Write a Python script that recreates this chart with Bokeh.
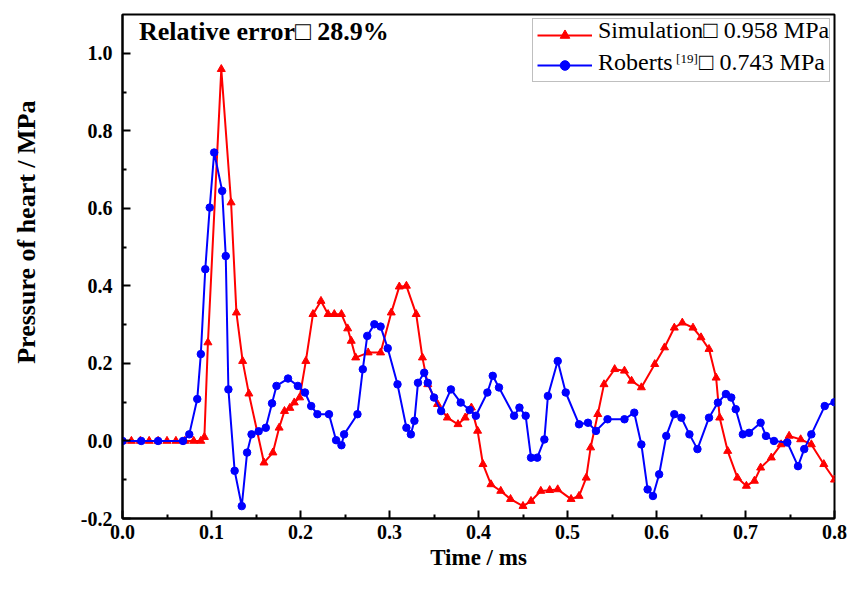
import math
from bokeh.plotting import figure
from bokeh.models import Range1d, Label, Legend, LegendItem, FixedTicker, PrintfTickFormatter, Title
from bokeh.embed import file_html
from bokeh.resources import INLINE

# Simulation (red, triangles)
sim_t = [0, 0.01, 0.02, 0.03, 0.04, 0.05, 0.06, 0.07, 0.08, 0.088, 0.092, 0.096, 0.111, 0.122, 0.128,
         0.135, 0.142, 0.159, 0.169, 0.176, 0.182, 0.188, 0.193, 0.199, 0.206, 0.214, 0.223, 0.231,
         0.238, 0.246, 0.253, 0.257, 0.262, 0.276, 0.290, 0.302, 0.311, 0.319, 0.330, 0.337, 0.343,
         0.354, 0.365, 0.377, 0.385, 0.392, 0.399, 0.405, 0.414, 0.425, 0.436, 0.450, 0.459, 0.470,
         0.480, 0.489, 0.504, 0.513, 0.521, 0.526, 0.534, 0.541, 0.553, 0.564, 0.572, 0.583, 0.598,
         0.609, 0.620, 0.629, 0.641, 0.650, 0.659, 0.667, 0.671, 0.680, 0.691, 0.701, 0.710, 0.717,
         0.729, 0.740, 0.749, 0.762, 0.774, 0.788, 0.800]
sim_p = [0, 0, 0, 0, 0, 0, 0, 0, 0, 0.0, 0.01, 0.254, 0.959, 0.615, 0.331,
         0.206, 0.122, -0.056, -0.030, 0.034, 0.077, 0.085, 0.099, 0.112, 0.206, 0.327, 0.361, 0.327,
         0.327, 0.327, 0.290, 0.258, 0.215, 0.228, 0.228, 0.331, 0.398, 0.400, 0.327, 0.215, 0.146,
         0.095, 0.060, 0.043, 0.060, 0.086, 0.026, -0.060, -0.112, -0.129, -0.150, -0.168, -0.155, -0.129,
         -0.127, -0.125, -0.150, -0.142, -0.095, -0.017, 0.069, 0.146, 0.185, 0.181, 0.155, 0.138, 0.198,
         0.241, 0.292, 0.305, 0.292, 0.267, 0.237, 0.163, 0.060, -0.026, -0.095, -0.116, -0.103, -0.069,
         -0.043, -0.009, 0.013, 0.004, -0.009, -0.060, -0.100]

# Roberts [19] (blue, circles)
rob_t = [0, 0.021, 0.040, 0.068, 0.075, 0.084, 0.088, 0.093, 0.098, 0.103, 0.112, 0.116, 0.119, 0.126,
         0.134, 0.140, 0.145, 0.153, 0.161, 0.168, 0.173, 0.186, 0.197, 0.205, 0.212, 0.219, 0.232,
         0.240, 0.246, 0.249, 0.264, 0.270, 0.275, 0.283, 0.290, 0.298, 0.309, 0.319, 0.324, 0.328,
         0.332, 0.339, 0.343, 0.350, 0.358, 0.369, 0.380, 0.390, 0.397, 0.410, 0.416, 0.423, 0.440,
         0.446, 0.453, 0.459, 0.466, 0.474, 0.478, 0.489, 0.498, 0.513, 0.523, 0.532, 0.545, 0.564,
         0.575, 0.583, 0.590, 0.596, 0.603, 0.611, 0.620, 0.628, 0.637, 0.646, 0.659, 0.669, 0.678,
         0.684, 0.689, 0.697, 0.704, 0.717, 0.723, 0.732, 0.747, 0.759, 0.766, 0.774, 0.789, 0.800]
rob_p = [0, 0, 0, 0, 0.017, 0.108, 0.224, 0.443, 0.602, 0.744, 0.645, 0.477, 0.133, -0.077,
         -0.168, -0.030, 0.017, 0.025, 0.034, 0.097, 0.142, 0.161, 0.142, 0.125, 0.090, 0.069, 0.069,
         0.002, -0.011, 0.017, 0.069, 0.185, 0.271, 0.301, 0.295, 0.239, 0.146, 0.034, 0.017, 0.052,
         0.150, 0.176, 0.150, 0.112, 0.077, 0.133, 0.099, 0.080, 0.065, 0.125, 0.168, 0.138, 0.065,
         0.086, 0.065, -0.043, -0.043, 0.004, 0.116, 0.206, 0.125, 0.043, 0.047, 0.026, 0.056, 0.056,
         0.073, -0.009, -0.125, -0.142, -0.086, 0.013, 0.069, 0.060, 0.017, -0.021, 0.060, 0.099, 0.121,
         0.112, 0.082, 0.017, 0.021, 0.047, 0.013, 0.000, -0.004, -0.065, -0.021, 0.017, 0.090, 0.100]

x_ticks = [0.0, 0.1, 0.2, 0.3, 0.4, 0.5, 0.6, 0.7, 0.8]
x_minor = [0.05, 0.15, 0.25, 0.35, 0.45, 0.55, 0.65, 0.75]
y_ticks = [-0.2, 0.0, 0.2, 0.4, 0.6, 0.8, 1.0]
y_minor = [-0.1, 0.1, 0.3, 0.5, 0.7, 0.9]

sim_label = "Simulation\u25a1 0.958 MPa"
rob_label_a = "Roberts"
rob_label_sup = "[19]"
rob_label_b = "\u25a1 0.743 MPa"
err_text = "Relative error\u25a1 28.9%"
x_title = "Time / ms"
y_title = "Pressure of heart / MPa"

SERIF = "Liberation Serif"

p = figure(width=853, height=607, output_backend="svg", toolbar_location=None,
           x_range=Range1d(0, 0.8), y_range=Range1d(-0.2, 1.1),
           min_border_left=122, min_border_right=19, min_border_top=14, min_border_bottom=89)
p.grid.visible = False
p.outline_line_color = "black"
p.outline_line_width = 2
p.background_fill_color = "white"

for ax, maj, mnr in ((p.xaxis[0], x_ticks, x_minor), (p.yaxis[0], y_ticks, y_minor)):
    ax.ticker = FixedTicker(ticks=maj, minor_ticks=mnr)
    ax.formatter = PrintfTickFormatter(format="%.1f")
    ax.axis_line_color = "black"
    ax.axis_line_width = 2
    ax.major_tick_in = 8
    ax.major_tick_out = 0
    ax.minor_tick_in = 4
    ax.minor_tick_out = 0
    ax.major_tick_line_width = 2
    ax.minor_tick_line_width = 2
    ax.major_label_text_font = SERIF
    ax.major_label_text_font_style = "bold"
    ax.major_label_text_font_size = "20px"
    ax.major_label_text_color = "black"
p.xaxis.major_label_standoff = 6
p.yaxis.major_label_standoff = 10

p.xaxis.axis_label = x_title
p.xaxis.axis_label_text_font = SERIF
p.xaxis.axis_label_text_font_style = "bold"
p.xaxis.axis_label_text_font_size = "23px"
p.xaxis.axis_label_text_color = "black"
p.xaxis.axis_label_standoff = 3

# spacer so that the y title sits near the left edge
p.yaxis.axis_label = " "
p.yaxis.axis_label_text_font_size = "1px"
p.yaxis.axis_label_standoff = 32

p.add_layout(Title(text=y_title, align="right", offset=86, vertical_align="middle", standoff=0,
                   text_font=SERIF, text_font_style="bold", text_font_size="26px",
                   text_color="black"), "left")

r1 = p.line(sim_t, sim_p, line_color="#ff0000", line_width=2)
m1 = p.scatter(sim_t, sim_p, marker="triangle", size=8, fill_color="#ff0000", line_color="#ff0000")
r2 = p.line(rob_t, rob_p, line_color="#0000ff", line_width=2)
m2 = p.scatter(rob_t, rob_p, marker="circle", size=7.5, fill_color="#0000ff", line_color="#0000ff")

legend = Legend(items=[LegendItem(label=" ", renderers=[r1, m1]),
                       LegendItem(label=" ", renderers=[r2, m2])],
                location="top_right", glyph_width=55, glyph_height=24, label_height=24,
                label_width=226, label_standoff=7, padding=4, spacing=6, margin=4,
                border_line_color="#808080", border_line_width=1.5,
                background_fill_alpha=0.0,
                label_text_font_size="10px")
p.add_layout(legend)

def lab(x, y, text, size, bold=False, **kw):
    p.add_layout(Label(x=x, y=y, text=text, text_font=SERIF, text_font_size=size,
                       text_font_style="bold" if bold else "normal", text_color="black",
                       level="overlay", **kw))

lab(0.0185, 1.019, err_text, "26px", bold=True)
lab(0.5343, 1.027, sim_label, "24px")
lab(0.5343, 0.945, rob_label_a, "24px")
lab(0.6220, 0.967, rob_label_sup, "13px")
lab(0.6478, 0.945, rob_label_b, "24px")

open("out.html", "w").write(file_html(p, INLINE))
